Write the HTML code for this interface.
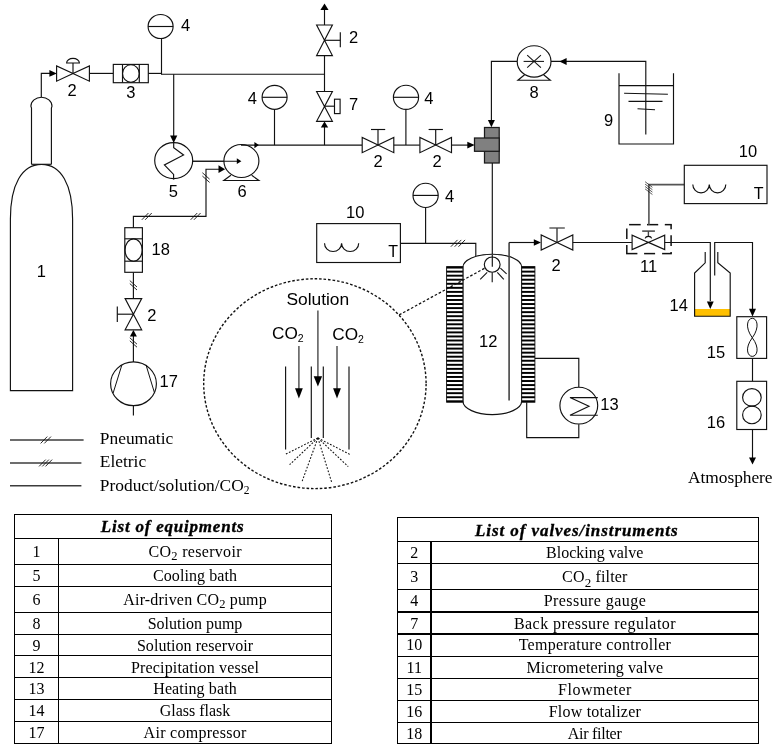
<!DOCTYPE html>
<html><head><meta charset="utf-8"><title>Experimental apparatus</title>
<style>
html,body{margin:0;padding:0;background:#fff;}
body{width:777px;height:755px;overflow:hidden;font-family:"Liberation Sans",sans-serif;}
svg{display:block;will-change:transform;}
</style></head><body>
<svg width="777" height="755" viewBox="0 0 777 755" fill="none" stroke="#111" stroke-width="1.15" stroke-linecap="butt" stroke-linejoin="miter">
<rect x="0" y="0" width="777" height="755" fill="#fff" stroke="none"/>
<path d="M10.4,390.6 L10.4,219 C10.4,184.5 22,164.3 41.5,164.3 C61,164.3 72.6,184.5 72.6,219 L72.6,390.6 Z" fill="#fff"/>
<path d="M31.5,164.3 L31.5,108 L30.9,106.2 A10.55,9 0 0 1 52,106.2 L51.4,108 L51.4,164.3" fill="#fff"/>
<line x1="31.4" y1="164.3" x2="51.5" y2="164.3" />
<text x="41.3" y="276.5" font-family="Liberation Sans" font-size="16.5" text-anchor="middle" fill="#000" stroke="none" >1</text>
<polyline points="41.3,97.3 41.3,73.4 50,73.4" fill="none"/>
<polygon points="56.8,73.4 49.4,70.10000000000001 49.4,76.7" fill="#000" stroke="none"/>
<polygon points="56.6,66.0 56.6,81.19999999999999 73,73.6" fill="#fff"/>
<polygon points="89.4,66.0 89.4,81.19999999999999 73,73.6" fill="#fff"/>
<line x1="73" y1="73.6" x2="73" y2="63" />
<path d="M66.6,63 A6.3,4.6 0 0 1 79.4,63 Z" fill="#fff"/>
<text x="72.2" y="95.7" font-family="Liberation Sans" font-size="16.5" text-anchor="middle" fill="#000" stroke="none" >2</text>
<line x1="89.4" y1="73.4" x2="113.3" y2="73.4" />
<rect x="113.3" y="64.4" width="35" height="18.3" fill="#fff"/>
<line x1="122.5" y1="64.4" x2="122.5" y2="82.7" />
<line x1="139.3" y1="64.4" x2="139.3" y2="82.7" />
<ellipse cx="130.9" cy="73.5" rx="8.4" ry="8.8" fill="none"/>
<text x="130.9" y="98" font-family="Liberation Sans" font-size="16.5" text-anchor="middle" fill="#000" stroke="none" >3</text>
<line x1="148.3" y1="73.4" x2="161.5" y2="73.4" />
<line x1="161.5" y1="38.4" x2="161.5" y2="74.2" />
<ellipse cx="160.6" cy="26.5" rx="12.5" ry="12.0" fill="#fff"/>
<line x1="148.1" y1="26.5" x2="173.1" y2="26.5" />
<text x="185.6" y="31.4" font-family="Liberation Sans" font-size="16.5" text-anchor="middle" fill="#000" stroke="none" >4</text>
<line x1="161" y1="74.2" x2="324.5" y2="74.2" />
<line x1="173.7" y1="74.2" x2="173.7" y2="136" />
<polygon points="173.7,142.9 170.1,135.4 177.29999999999998,135.4" fill="#000" stroke="none"/>
<ellipse cx="173.7" cy="160.6" rx="19" ry="18" fill="#fff"/>
<polyline points="173.7,142.3 173.7,147.6 183.6,155 164.4,165 173.6,174.4 173.6,179.6" fill="none"/>
<text x="173.3" y="196.5" font-family="Liberation Sans" font-size="16.5" text-anchor="middle" fill="#000" stroke="none" >5</text>
<line x1="192.4" y1="161.2" x2="238" y2="161.2" />
<ellipse cx="241.4" cy="161" rx="17.5" ry="16.5" fill="#fff"/>
<line x1="192.4" y1="161.2" x2="237.5" y2="161.2" />
<polygon points="241.4,161.2 236.8,158.29999999999998 236.8,164.1" fill="#000" stroke="none"/>
<polyline points="230.9,175.3 223.8,180.5 258.9,180.5 251.7,175.3" fill="none"/>
<text x="242.2" y="196.5" font-family="Liberation Sans" font-size="16.5" text-anchor="middle" fill="#000" stroke="none" >6</text>
<line x1="241" y1="145.1" x2="362" y2="145.1" />
<polygon points="258.8,145.1 254.4,142.0 254.4,148.2" fill="#000" stroke="none"/>
<line x1="274.5" y1="110" x2="274.5" y2="145.1" />
<ellipse cx="274.6" cy="97.3" rx="12.5" ry="12.0" fill="#fff"/>
<line x1="262.1" y1="97.3" x2="287.1" y2="97.3" />
<text x="252.3" y="103.5" font-family="Liberation Sans" font-size="16.5" text-anchor="middle" fill="#000" stroke="none" >4</text>
<line x1="324.5" y1="9" x2="324.5" y2="25" />
<line x1="324.5" y1="55.6" x2="324.5" y2="91" />
<polygon points="324.5,3.5 320.4,9.9 328.6,9.9" fill="#000" stroke="none"/>
<polygon points="316.6,24.999999999999996 332.4,24.999999999999996 324.5,40.3" fill="#fff"/>
<polygon points="316.6,55.599999999999994 332.4,55.599999999999994 324.5,40.3" fill="#fff"/>
<line x1="324.5" y1="40.3" x2="340.3" y2="40.3" />
<line x1="340.3" y1="32.2" x2="340.3" y2="47.2" />
<text x="353.7" y="42.6" font-family="Liberation Sans" font-size="16.5" text-anchor="middle" fill="#000" stroke="none" >2</text>
<polygon points="316.6,91.5 332.4,91.5 324.5,106.4" fill="#fff"/>
<polygon points="316.6,121.30000000000001 332.4,121.30000000000001 324.5,106.4" fill="#fff"/>
<line x1="324.5" y1="106.2" x2="334.5" y2="106.2" />
<rect x="334.5" y="99.2" width="5.6" height="14.4" fill="#fff"/>
<text x="353.6" y="109.7" font-family="Liberation Sans" font-size="16.5" text-anchor="middle" fill="#000" stroke="none" >7</text>
<line x1="324.5" y1="127" x2="324.5" y2="145.1" />
<polygon points="324.5,121.6 320.8,127.6 328.2,127.6" fill="#000" stroke="none"/>
<polygon points="362.2,137.5 362.2,152.7 378,145.1" fill="#fff"/>
<polygon points="393.8,137.5 393.8,152.7 378,145.1" fill="#fff"/>
<line x1="378" y1="145.1" x2="378" y2="129.5" />
<line x1="371" y1="129.5" x2="385.2" y2="129.5" />
<text x="378" y="166.5" font-family="Liberation Sans" font-size="16.5" text-anchor="middle" fill="#000" stroke="none" >2</text>
<line x1="393.8" y1="145.1" x2="419.9" y2="145.1" />
<line x1="405.9" y1="110" x2="405.9" y2="145.1" />
<ellipse cx="406" cy="97.3" rx="12.6" ry="12.1" fill="#fff"/>
<line x1="393.4" y1="97.3" x2="418.6" y2="97.3" />
<text x="428.8" y="103.5" font-family="Liberation Sans" font-size="16.5" text-anchor="middle" fill="#000" stroke="none" >4</text>
<polygon points="419.9,137.5 419.9,152.7 435.7,145.1" fill="#fff"/>
<polygon points="451.5,137.5 451.5,152.7 435.7,145.1" fill="#fff"/>
<line x1="435.7" y1="145.1" x2="435.7" y2="129.5" />
<line x1="428.6" y1="129.5" x2="442.9" y2="129.5" />
<text x="437" y="166.5" font-family="Liberation Sans" font-size="16.5" text-anchor="middle" fill="#000" stroke="none" >2</text>
<line x1="451.5" y1="145.1" x2="468" y2="145.1" />
<polygon points="474.7,145.1 467.3,141.7 467.3,148.5" fill="#000" stroke="none"/>
<rect x="484.5" y="127.5" width="14.7" height="35.5" fill="#808080" stroke="#1a1a1a" stroke-width="1.25"/>
<rect x="474.5" y="138" width="24.7" height="13.3" fill="#808080" stroke="#1a1a1a" stroke-width="1.25"/>
<polyline points="517,61.4 491.4,61.4 491.4,121" fill="none"/>
<polygon points="491.4,127.3 487.9,119.89999999999999 494.9,119.89999999999999" fill="#000" stroke="none"/>
<ellipse cx="534.1" cy="61.4" rx="16.9" ry="15.7" fill="#fff"/>
<polyline points="524.6,74.8 517.9,80.2 550.3,80.2 543.6,74.8" fill="none"/>
<line x1="523.6" y1="61.4" x2="544" y2="61.4" stroke-width="1.05"/>
<line x1="527.2" y1="55.2" x2="540.9" y2="67.7" stroke-width="1.05"/>
<line x1="540.9" y1="55.2" x2="527.2" y2="67.7" stroke-width="1.05"/>
<text x="534.2" y="98.2" font-family="Liberation Sans" font-size="16.5" text-anchor="middle" fill="#000" stroke="none" >8</text>
<polyline points="551,61.4 645.8,61.4 645.8,134.5" fill="none"/>
<polygon points="559.4,61.4 566.6,57.9 566.6,64.9" fill="#000" stroke="none"/>
<polyline points="619,73.3 619,144 673.5,144 673.5,73.3" fill="none"/>
<line x1="619" y1="85.6" x2="673.5" y2="85.6" />
<line x1="624.1" y1="93.3" x2="667.9" y2="94.3" />
<line x1="628.5" y1="101.3" x2="662.5" y2="101.3" />
<line x1="637.5" y1="108.8" x2="655" y2="109.8" />
<text x="608.7" y="126.3" font-family="Liberation Sans" font-size="16.5" text-anchor="middle" fill="#000" stroke="none" >9</text>
<line x1="492.3" y1="163" x2="492.3" y2="267" />
<rect x="316.7" y="223.6" width="83.7" height="38.9" fill="#fff"/>
<path d="M324.5,243.2 A8.55,8.3 0 0 0 341.6,243.2 A8.55,8.3 0 0 0 358.7,243.2" fill="none"/>
<text x="393.2" y="257" font-family="Liberation Sans" font-size="16" text-anchor="middle" fill="#000" stroke="none" >T</text>
<text x="355.3" y="217.6" font-family="Liberation Sans" font-size="16.5" text-anchor="middle" fill="#000" stroke="none" >10</text>
<polyline points="400.4,243.3 475.8,243.3 475.8,257" fill="none"/>
<line x1="425.6" y1="208" x2="425.6" y2="243.3" />
<ellipse cx="425.6" cy="195.4" rx="12.6" ry="12.1" fill="#fff"/>
<line x1="413.0" y1="195.4" x2="438.20000000000005" y2="195.4" />
<text x="449.5" y="201.7" font-family="Liberation Sans" font-size="16.5" text-anchor="middle" fill="#000" stroke="none" >4</text>
<line x1="450.9" y1="246.70000000000002" x2="457.5" y2="239.9" stroke-width="0.9"/>
<line x1="454.7" y1="246.70000000000002" x2="461.3" y2="239.9" stroke-width="0.9"/>
<line x1="458.5" y1="246.70000000000002" x2="465.1" y2="239.9" stroke-width="0.9"/>
<path d="M462.9,401 L462.9,267.2 A29.4,13 0 0 1 521.7,267.2 L521.7,401 A29.4,13.6 0 0 1 462.9,401 Z" fill="#fff"/>
<rect x="446.6" y="266.6" width="16.3" height="135.6" fill="#fff" stroke-width="0.9"/>
<rect x="446.6" y="266.6" width="16.3" height="1.95" fill="#000" stroke="none"/>
<rect x="446.6" y="270.65" width="16.3" height="1.95" fill="#000" stroke="none"/>
<rect x="446.6" y="274.7" width="16.3" height="1.95" fill="#000" stroke="none"/>
<rect x="446.6" y="278.75" width="16.3" height="1.95" fill="#000" stroke="none"/>
<rect x="446.6" y="282.81" width="16.3" height="1.95" fill="#000" stroke="none"/>
<rect x="446.6" y="286.86" width="16.3" height="1.95" fill="#000" stroke="none"/>
<rect x="446.6" y="290.91" width="16.3" height="1.95" fill="#000" stroke="none"/>
<rect x="446.6" y="294.96" width="16.3" height="1.95" fill="#000" stroke="none"/>
<rect x="446.6" y="299.01" width="16.3" height="1.95" fill="#000" stroke="none"/>
<rect x="446.6" y="303.06" width="16.3" height="1.95" fill="#000" stroke="none"/>
<rect x="446.6" y="307.12" width="16.3" height="1.95" fill="#000" stroke="none"/>
<rect x="446.6" y="311.17" width="16.3" height="1.95" fill="#000" stroke="none"/>
<rect x="446.6" y="315.22" width="16.3" height="1.95" fill="#000" stroke="none"/>
<rect x="446.6" y="319.27" width="16.3" height="1.95" fill="#000" stroke="none"/>
<rect x="446.6" y="323.32" width="16.3" height="1.95" fill="#000" stroke="none"/>
<rect x="446.6" y="327.37" width="16.3" height="1.95" fill="#000" stroke="none"/>
<rect x="446.6" y="331.42" width="16.3" height="1.95" fill="#000" stroke="none"/>
<rect x="446.6" y="335.48" width="16.3" height="1.95" fill="#000" stroke="none"/>
<rect x="446.6" y="339.53" width="16.3" height="1.95" fill="#000" stroke="none"/>
<rect x="446.6" y="343.58" width="16.3" height="1.95" fill="#000" stroke="none"/>
<rect x="446.6" y="347.63" width="16.3" height="1.95" fill="#000" stroke="none"/>
<rect x="446.6" y="351.68" width="16.3" height="1.95" fill="#000" stroke="none"/>
<rect x="446.6" y="355.73" width="16.3" height="1.95" fill="#000" stroke="none"/>
<rect x="446.6" y="359.78" width="16.3" height="1.95" fill="#000" stroke="none"/>
<rect x="446.6" y="363.84" width="16.3" height="1.95" fill="#000" stroke="none"/>
<rect x="446.6" y="367.89" width="16.3" height="1.95" fill="#000" stroke="none"/>
<rect x="446.6" y="371.94" width="16.3" height="1.95" fill="#000" stroke="none"/>
<rect x="446.6" y="375.99" width="16.3" height="1.95" fill="#000" stroke="none"/>
<rect x="446.6" y="380.04" width="16.3" height="1.95" fill="#000" stroke="none"/>
<rect x="446.6" y="384.09" width="16.3" height="1.95" fill="#000" stroke="none"/>
<rect x="446.6" y="388.15" width="16.3" height="1.95" fill="#000" stroke="none"/>
<rect x="446.6" y="392.2" width="16.3" height="1.95" fill="#000" stroke="none"/>
<rect x="446.6" y="396.25" width="16.3" height="1.95" fill="#000" stroke="none"/>
<rect x="446.6" y="400.3" width="16.3" height="1.95" fill="#000" stroke="none"/>
<rect x="521.7" y="266.6" width="13.2" height="135.6" fill="#fff" stroke-width="0.9"/>
<rect x="521.7" y="266.6" width="13.2" height="1.95" fill="#000" stroke="none"/>
<rect x="521.7" y="270.65" width="13.2" height="1.95" fill="#000" stroke="none"/>
<rect x="521.7" y="274.7" width="13.2" height="1.95" fill="#000" stroke="none"/>
<rect x="521.7" y="278.75" width="13.2" height="1.95" fill="#000" stroke="none"/>
<rect x="521.7" y="282.81" width="13.2" height="1.95" fill="#000" stroke="none"/>
<rect x="521.7" y="286.86" width="13.2" height="1.95" fill="#000" stroke="none"/>
<rect x="521.7" y="290.91" width="13.2" height="1.95" fill="#000" stroke="none"/>
<rect x="521.7" y="294.96" width="13.2" height="1.95" fill="#000" stroke="none"/>
<rect x="521.7" y="299.01" width="13.2" height="1.95" fill="#000" stroke="none"/>
<rect x="521.7" y="303.06" width="13.2" height="1.95" fill="#000" stroke="none"/>
<rect x="521.7" y="307.12" width="13.2" height="1.95" fill="#000" stroke="none"/>
<rect x="521.7" y="311.17" width="13.2" height="1.95" fill="#000" stroke="none"/>
<rect x="521.7" y="315.22" width="13.2" height="1.95" fill="#000" stroke="none"/>
<rect x="521.7" y="319.27" width="13.2" height="1.95" fill="#000" stroke="none"/>
<rect x="521.7" y="323.32" width="13.2" height="1.95" fill="#000" stroke="none"/>
<rect x="521.7" y="327.37" width="13.2" height="1.95" fill="#000" stroke="none"/>
<rect x="521.7" y="331.42" width="13.2" height="1.95" fill="#000" stroke="none"/>
<rect x="521.7" y="335.48" width="13.2" height="1.95" fill="#000" stroke="none"/>
<rect x="521.7" y="339.53" width="13.2" height="1.95" fill="#000" stroke="none"/>
<rect x="521.7" y="343.58" width="13.2" height="1.95" fill="#000" stroke="none"/>
<rect x="521.7" y="347.63" width="13.2" height="1.95" fill="#000" stroke="none"/>
<rect x="521.7" y="351.68" width="13.2" height="1.95" fill="#000" stroke="none"/>
<rect x="521.7" y="355.73" width="13.2" height="1.95" fill="#000" stroke="none"/>
<rect x="521.7" y="359.78" width="13.2" height="1.95" fill="#000" stroke="none"/>
<rect x="521.7" y="363.84" width="13.2" height="1.95" fill="#000" stroke="none"/>
<rect x="521.7" y="367.89" width="13.2" height="1.95" fill="#000" stroke="none"/>
<rect x="521.7" y="371.94" width="13.2" height="1.95" fill="#000" stroke="none"/>
<rect x="521.7" y="375.99" width="13.2" height="1.95" fill="#000" stroke="none"/>
<rect x="521.7" y="380.04" width="13.2" height="1.95" fill="#000" stroke="none"/>
<rect x="521.7" y="384.09" width="13.2" height="1.95" fill="#000" stroke="none"/>
<rect x="521.7" y="388.15" width="13.2" height="1.95" fill="#000" stroke="none"/>
<rect x="521.7" y="392.2" width="13.2" height="1.95" fill="#000" stroke="none"/>
<rect x="521.7" y="396.25" width="13.2" height="1.95" fill="#000" stroke="none"/>
<rect x="521.7" y="400.3" width="13.2" height="1.95" fill="#000" stroke="none"/>
<ellipse cx="492.2" cy="264.6" rx="7.9" ry="7.6" fill="#fff"/>
<line x1="492.3" y1="255" x2="492.3" y2="266.7" />
<line x1="487.2" y1="272.3" x2="480.2" y2="279.3" stroke-width="1.1"/>
<line x1="492.2" y1="272.4" x2="492.2" y2="282.2" stroke-width="1.1"/>
<line x1="497.3" y1="272.3" x2="503.8" y2="279.3" stroke-width="1.1"/>
<line x1="500.4" y1="268.2" x2="506.6" y2="273.8" stroke-width="1.1"/>
<line x1="509.1" y1="242.5" x2="509.1" y2="400.4" stroke="#444" stroke-width="1.6"/>
<line x1="509.1" y1="242.5" x2="535" y2="242.5" />
<polygon points="541,242.5 533.8,239.2 533.8,245.8" fill="#000" stroke="none"/>
<polygon points="541.2,234.9 541.2,250.1 557,242.5" fill="#fff"/>
<polygon points="572.8,234.9 572.8,250.1 557,242.5" fill="#fff"/>
<line x1="557" y1="242.5" x2="557" y2="228" />
<line x1="549.4" y1="228" x2="564.8" y2="228" stroke="#444" stroke-width="1.3"/>
<text x="556.2" y="271" font-family="Liberation Sans" font-size="16.5" text-anchor="middle" fill="#000" stroke="none" >2</text>
<text x="488.2" y="347.2" font-family="Liberation Sans" font-size="16.5" text-anchor="middle" fill="#000" stroke="none" >12</text>
<line x1="572.8" y1="242.5" x2="631.9" y2="242.5" />
<line x1="484.4" y1="268.4" x2="399" y2="315" stroke-dasharray="2.6 1.9" stroke-width="1.25"/>
<ellipse cx="314.9" cy="383.7" rx="111.2" ry="104.9" fill="none" stroke-dasharray="2.6 1.9" stroke-width="1.4"/>
<text x="317.8" y="305.4" font-family="Liberation Sans" font-size="17.4" text-anchor="middle" fill="#000" stroke="none" textLength="62.8" lengthAdjust="spacing">Solution</text>
<text x="272" y="338.8" font-family="Liberation Sans" font-size="17.2" fill="#000" stroke="none">CO<tspan font-size="10.5" dy="2.8">2</tspan></text>
<text x="332.3" y="340.2" font-family="Liberation Sans" font-size="17.2" fill="#000" stroke="none">CO<tspan font-size="10.5" dy="2.8">2</tspan></text>
<line x1="317.9" y1="310.4" x2="317.9" y2="378" stroke="#555" stroke-width="1.5"/>
<polygon points="317.9,386.6 313.7,376.3 322.09999999999997,376.3" fill="#000" stroke="none"/>
<line x1="298.9" y1="346" x2="298.9" y2="390" stroke="#555" stroke-width="1.5"/>
<polygon points="298.9,398.5 295.0,388.2 302.79999999999995,388.2" fill="#000" stroke="none"/>
<line x1="337" y1="346" x2="337" y2="390" stroke="#555" stroke-width="1.5"/>
<polygon points="337,398.5 333.1,388.2 340.9,388.2" fill="#000" stroke="none"/>
<line x1="285.6" y1="366.6" x2="285.6" y2="449.4" />
<line x1="311.3" y1="366.6" x2="311.3" y2="437.9" />
<line x1="323.3" y1="366.6" x2="323.3" y2="437.9" />
<line x1="349" y1="366.6" x2="349" y2="449.4" />
<line x1="317.9" y1="438" x2="285.7" y2="454.1" stroke-dasharray="1.8 1.6" stroke-width="1.05"/>
<line x1="317.9" y1="438" x2="289.6" y2="464.7" stroke-dasharray="1.8 1.6" stroke-width="1.05"/>
<line x1="317.9" y1="438" x2="302.2" y2="481.1" stroke-dasharray="1.8 1.6" stroke-width="1.05"/>
<line x1="317.9" y1="438" x2="331.8" y2="482.8" stroke-dasharray="1.8 1.6" stroke-width="1.05"/>
<line x1="317.9" y1="438" x2="348.2" y2="466.6" stroke-dasharray="1.8 1.6" stroke-width="1.05"/>
<line x1="317.9" y1="438" x2="350.4" y2="454.7" stroke-dasharray="1.8 1.6" stroke-width="1.05"/>
<polyline points="534.9,358.3 578.8,358.3 578.8,387.2" fill="none"/>
<ellipse cx="578.8" cy="405.6" rx="18.9" ry="18.4" fill="#fff"/>
<polyline points="597.8,397.6 570,397.6 589,406.3 570,415.2 597.8,415.2" fill="none"/>
<polyline points="578.8,424.2 578.8,437.6 526.7,437.6 526.7,402.2" fill="none"/>
<text x="609.5" y="409.9" font-family="Liberation Sans" font-size="16.5" text-anchor="middle" fill="#000" stroke="none" >13</text>
<line x1="629.1" y1="224.65" x2="640.7" y2="224.65" stroke="#111" stroke-width="1.5"/>
<line x1="647" y1="224.65" x2="658.2" y2="224.65" stroke="#111" stroke-width="1.5"/>
<line x1="664.8" y1="224.65" x2="671.85" y2="224.65" stroke="#111" stroke-width="1.5"/>
<line x1="626.05" y1="253.6" x2="637.4" y2="253.6" stroke="#111" stroke-width="1.5"/>
<line x1="644.1" y1="253.6" x2="655.1" y2="253.6" stroke="#111" stroke-width="1.5"/>
<line x1="662.1" y1="253.6" x2="671.85" y2="253.6" stroke="#111" stroke-width="1.5"/>
<line x1="626.8" y1="228.5" x2="626.8" y2="238.9" stroke="#111" stroke-width="1.5"/>
<line x1="626.8" y1="245.1" x2="626.8" y2="253.6" stroke="#111" stroke-width="1.5"/>
<line x1="671.1" y1="224.65" x2="671.1" y2="229.3" stroke="#111" stroke-width="1.5"/>
<line x1="671.1" y1="235.2" x2="671.1" y2="245.9" stroke="#111" stroke-width="1.5"/>
<line x1="671.1" y1="252" x2="671.1" y2="253.6" stroke="#111" stroke-width="1.5"/>
<polygon points="632.1,235.15 632.1,249.65 648.4,242.4" fill="#fff"/>
<polygon points="664.6999999999999,235.15 664.6999999999999,249.65 648.4,242.4" fill="#fff"/>
<line x1="648.4" y1="231.1" x2="648.4" y2="236" stroke="#444" stroke-width="1.4"/>
<line x1="642.2" y1="231.1" x2="654.9" y2="231.1" stroke="#444" stroke-width="1.5"/>
<path d="M645.1,238.4 A3.4,2.7 0 0 1 651.7,238.4" fill="none" stroke-width="1.1"/>
<text x="648.6" y="272" font-family="Liberation Sans" font-size="16.5" text-anchor="middle" fill="#000" stroke="none" >11</text>
<polyline points="684.3,184.6 648.9,184.6 648.9,224.65" fill="none" stroke="#555" stroke-width="1.6"/>
<line x1="645.1" y1="181.7" x2="652.4" y2="187.29999999999998" stroke-width="0.7"/>
<line x1="645.1" y1="184.1" x2="652.4" y2="189.7" stroke-width="0.7"/>
<line x1="645.1" y1="186.5" x2="652.4" y2="192.1" stroke-width="0.7"/>
<line x1="645.1" y1="188.89999999999998" x2="652.4" y2="194.49999999999997" stroke-width="0.7"/>
<rect x="684.3" y="165.3" width="82.7" height="38.3" fill="#fff"/>
<path d="M692.8,184.6 A8.25,8.3 0 0 0 709.3,184.6 A8.25,8.3 0 0 0 725.8,184.6" fill="none"/>
<text x="758.7" y="198.7" font-family="Liberation Sans" font-size="16" text-anchor="middle" fill="#000" stroke="none" >T</text>
<text x="748" y="156.6" font-family="Liberation Sans" font-size="16.5" text-anchor="middle" fill="#000" stroke="none" >10</text>
<rect x="694.6" y="309" width="35.6" height="7.2" fill="#FFC000" stroke="none"/>
<polyline points="705.2,252 705.2,262.8 694.6,273 694.6,316.2 730.2,316.2 730.2,273 717.8,262.8 717.8,252" fill="none"/>
<polyline points="664.7,242.5 710.3,242.5 710.3,301" fill="none"/>
<polygon points="710.3,309 706.9,301.4 713.6999999999999,301.4" fill="#000" stroke="none"/>
<polyline points="714.7,275.6 714.7,242.5 752.5,242.5 752.5,309" fill="none"/>
<polygon points="752.5,316.4 749.0,308.79999999999995 756.0,308.79999999999995" fill="#000" stroke="none"/>
<text x="678.7" y="310.5" font-family="Liberation Sans" font-size="16.5" text-anchor="middle" fill="#000" stroke="none" >14</text>
<rect x="736.8" y="316.7" width="29.8" height="41.7" fill="#fff"/>
<path d="M752.3,337.8 C744.5,327 747.5,318.3 752.3,318.3 C757.1,318.3 760.1,327 752.3,337.8 C744.5,348 747.5,356.4 752.3,356.4 C757.1,356.4 760.1,348 752.3,337.8 Z" fill="none" stroke-width="1"/>
<text x="716" y="358" font-family="Liberation Sans" font-size="16.5" text-anchor="middle" fill="#000" stroke="none" >15</text>
<line x1="752.5" y1="358.4" x2="752.5" y2="381.3" />
<rect x="736.8" y="381.3" width="29.8" height="48.2" fill="#fff"/>
<ellipse cx="751.9" cy="397.4" rx="9.3" ry="8.7" fill="none"/>
<ellipse cx="751.9" cy="414.9" rx="9.3" ry="8.8" fill="none"/>
<text x="716" y="428" font-family="Liberation Sans" font-size="16.5" text-anchor="middle" fill="#000" stroke="none" >16</text>
<line x1="752.5" y1="429.5" x2="752.5" y2="458" />
<polygon points="752.5,464.4 749.0,457.4 756.0,457.4" fill="#000" stroke="none"/>
<text x="730.3" y="483.2" font-family="Liberation Serif" font-size="17.4" text-anchor="middle" fill="#000" stroke="none" textLength="84.4" lengthAdjust="spacing">Atmosphere</text>
<ellipse cx="133.5" cy="383.8" rx="22.9" ry="21.9" fill="#fff"/>
<line x1="121.9" y1="364.9" x2="113.1" y2="393.2" stroke-width="1"/>
<line x1="146" y1="364.9" x2="154.6" y2="393.2" stroke-width="1"/>
<line x1="133.4" y1="405.7" x2="133.4" y2="415.4" />
<text x="168.8" y="386.9" font-family="Liberation Sans" font-size="16.5" text-anchor="middle" fill="#000" stroke="none" >17</text>
<line x1="133.4" y1="362" x2="133.4" y2="336" />
<polygon points="133.4,330 129.9,336.6 136.9,336.6" fill="#000" stroke="none"/>
<polygon points="125.10000000000001,298.59999999999997 141.70000000000002,298.59999999999997 133.4,314.2" fill="#fff"/>
<polygon points="125.10000000000001,329.8 141.70000000000002,329.8 133.4,314.2" fill="#fff"/>
<line x1="133.4" y1="314.2" x2="117.3" y2="314.2" />
<line x1="117.3" y1="306.6" x2="117.3" y2="322" />
<text x="151.8" y="320.8" font-family="Liberation Sans" font-size="16.5" text-anchor="middle" fill="#000" stroke="none" >2</text>
<line x1="133.4" y1="298.6" x2="133.4" y2="272.3" />
<rect x="124.8" y="227.7" width="17.6" height="44.6" fill="#fff"/>
<line x1="124.8" y1="238.8" x2="142.4" y2="238.8" />
<line x1="124.8" y1="261.2" x2="142.4" y2="261.2" />
<ellipse cx="133.6" cy="250" rx="8.6" ry="11.2" fill="none"/>
<text x="160.7" y="255" font-family="Liberation Sans" font-size="16.5" text-anchor="middle" fill="#000" stroke="none" >18</text>
<polyline points="133.4,227.7 133.4,216.4 206,216.4 206,169.2 219,169.2" fill="none"/>
<polygon points="225.1,169.2 218.5,165.29999999999998 218.5,173.1" fill="#000" stroke="none"/>
<line x1="141.85" y1="219.8" x2="148.45000000000002" y2="213.0" stroke-width="0.9"/>
<line x1="145.15" y1="219.8" x2="151.75000000000003" y2="213.0" stroke-width="0.9"/>
<line x1="190.64999999999998" y1="219.8" x2="197.25" y2="213.0" stroke-width="0.9"/>
<line x1="193.95" y1="219.8" x2="200.55" y2="213.0" stroke-width="0.9"/>
<line x1="202.4" y1="172.75" x2="209.6" y2="179.14999999999998" stroke-width="0.9"/>
<line x1="202.4" y1="176.05" x2="209.6" y2="182.45" stroke-width="0.9"/>
<line x1="129.8" y1="280.6" x2="137.0" y2="287.0" stroke-width="0.9"/>
<line x1="129.8" y1="283.6" x2="137.0" y2="290.0" stroke-width="0.9"/>
<line x1="129.8" y1="337.8" x2="137.0" y2="344.2" stroke-width="0.9"/>
<line x1="129.8" y1="340.8" x2="137.0" y2="347.2" stroke-width="0.9"/>
<line x1="10" y1="440" x2="83.6" y2="440" stroke="#3c3c3c" stroke-width="1.45"/>
<line x1="40.65" y1="443.4" x2="47.24999999999999" y2="436.6" stroke-width="0.9"/>
<line x1="44.35" y1="443.4" x2="50.949999999999996" y2="436.6" stroke-width="0.9"/>
<line x1="10" y1="463" x2="81.4" y2="463" stroke="#3c3c3c" stroke-width="1.45"/>
<line x1="39.1" y1="466.4" x2="45.699999999999996" y2="459.6" stroke-width="0.9"/>
<line x1="42.300000000000004" y1="466.4" x2="48.9" y2="459.6" stroke-width="0.9"/>
<line x1="45.5" y1="466.4" x2="52.099999999999994" y2="459.6" stroke-width="0.9"/>
<line x1="10" y1="485.8" x2="81.4" y2="485.8" stroke="#3c3c3c" stroke-width="1.45"/>
<text x="99.8" y="443.6" font-family="Liberation Serif" font-size="17.4" text-anchor="start" fill="#000" stroke="none" >Pneumatic</text>
<text x="99.8" y="467.2" font-family="Liberation Serif" font-size="17.4" text-anchor="start" fill="#000" stroke="none" >Eletric</text>
<text x="99.8" y="490.5" font-family="Liberation Serif" font-size="17.4" fill="#000" stroke="none">Product/solution/CO<tspan font-size="11.5" dy="3.2">2</tspan></text>
<rect x="14.5" y="514.5" width="317.0" height="229.0" fill="#fff" stroke="#000" stroke-width="1" shape-rendering="crispEdges"/>
<line x1="14.5" y1="538.5" x2="331.5" y2="538.5" stroke="#000" stroke-width="1" shape-rendering="crispEdges"/>
<line x1="14.5" y1="564.5" x2="331.5" y2="564.5" stroke="#000" stroke-width="1" shape-rendering="crispEdges"/>
<line x1="14.5" y1="586.5" x2="331.5" y2="586.5" stroke="#000" stroke-width="1" shape-rendering="crispEdges"/>
<line x1="14.5" y1="612.5" x2="331.5" y2="612.5" stroke="#000" stroke-width="1" shape-rendering="crispEdges"/>
<line x1="14.5" y1="634.5" x2="331.5" y2="634.5" stroke="#000" stroke-width="1" shape-rendering="crispEdges"/>
<line x1="14.5" y1="655.5" x2="331.5" y2="655.5" stroke="#000" stroke-width="1" shape-rendering="crispEdges"/>
<line x1="14.5" y1="677.5" x2="331.5" y2="677.5" stroke="#000" stroke-width="1" shape-rendering="crispEdges"/>
<line x1="14.5" y1="699.5" x2="331.5" y2="699.5" stroke="#000" stroke-width="1" shape-rendering="crispEdges"/>
<line x1="14.5" y1="721.5" x2="331.5" y2="721.5" stroke="#000" stroke-width="1" shape-rendering="crispEdges"/>
<line x1="58.5" y1="538.5" x2="58.5" y2="743.5" stroke="#000" stroke-width="1" shape-rendering="crispEdges"/>
<text x="172.2" y="532.3" font-family="Liberation Serif" font-size="17" font-weight="bold" font-style="italic" text-anchor="middle" textLength="142.7" lengthAdjust="spacing" fill="#000" stroke="#000" stroke-width="0.35">List of equipments</text>
<text x="36.5" y="556.6" font-family="Liberation Serif" font-size="16" text-anchor="middle" fill="#000" stroke="none" >1</text>
<text x="195.0" y="556.6" font-family="Liberation Serif" font-size="16" text-anchor="middle" fill="#000" stroke="none" textLength="93" lengthAdjust="spacing">CO<tspan font-size="12.5" dy="3.1">2</tspan><tspan dy="-3.1"> </tspan>reservoir</text>
<text x="36.5" y="580.8" font-family="Liberation Serif" font-size="16" text-anchor="middle" fill="#000" stroke="none" >5</text>
<text x="195.0" y="580.8" font-family="Liberation Serif" font-size="16" text-anchor="middle" fill="#000" stroke="none" textLength="84" lengthAdjust="spacing">Cooling bath</text>
<text x="36.5" y="604.5" font-family="Liberation Serif" font-size="16" text-anchor="middle" fill="#000" stroke="none" >6</text>
<text x="195.0" y="604.5" font-family="Liberation Serif" font-size="16" text-anchor="middle" fill="#000" stroke="none" textLength="143.5" lengthAdjust="spacing">Air-driven CO<tspan font-size="12.5" dy="3.1">2</tspan><tspan dy="-3.1"> </tspan>pump</text>
<text x="36.5" y="628.7" font-family="Liberation Serif" font-size="16" text-anchor="middle" fill="#000" stroke="none" >8</text>
<text x="195.0" y="628.7" font-family="Liberation Serif" font-size="16" text-anchor="middle" fill="#000" stroke="none" >Solution pump</text>
<text x="36.5" y="650.7" font-family="Liberation Serif" font-size="16" text-anchor="middle" fill="#000" stroke="none" >9</text>
<text x="195.0" y="650.7" font-family="Liberation Serif" font-size="16" text-anchor="middle" fill="#000" stroke="none" textLength="116.2" lengthAdjust="spacing">Solution reservoir</text>
<text x="36.5" y="672.5" font-family="Liberation Serif" font-size="16" text-anchor="middle" fill="#000" stroke="none" >12</text>
<text x="195.0" y="672.5" font-family="Liberation Serif" font-size="16" text-anchor="middle" fill="#000" stroke="none" textLength="128" lengthAdjust="spacing">Precipitation vessel</text>
<text x="36.5" y="693.7" font-family="Liberation Serif" font-size="16" text-anchor="middle" fill="#000" stroke="none" >13</text>
<text x="195.0" y="693.7" font-family="Liberation Serif" font-size="16" text-anchor="middle" fill="#000" stroke="none" textLength="83.6" lengthAdjust="spacing">Heating bath</text>
<text x="36.5" y="715.5" font-family="Liberation Serif" font-size="16" text-anchor="middle" fill="#000" stroke="none" >14</text>
<text x="195.0" y="715.5" font-family="Liberation Serif" font-size="16" text-anchor="middle" fill="#000" stroke="none" >Glass flask</text>
<text x="36.5" y="737.6" font-family="Liberation Serif" font-size="16" text-anchor="middle" fill="#000" stroke="none" >17</text>
<text x="195.0" y="737.6" font-family="Liberation Serif" font-size="16" text-anchor="middle" fill="#000" stroke="none" textLength="102.8" lengthAdjust="spacing">Air compressor</text>
<rect x="397.5" y="517.5" width="361.0" height="226.0" fill="#fff" stroke="#000" stroke-width="1" shape-rendering="crispEdges"/>
<line x1="397.5" y1="541.5" x2="758.5" y2="541.5" stroke="#000" stroke-width="1" shape-rendering="crispEdges"/>
<line x1="397.5" y1="563.5" x2="758.5" y2="563.5" stroke="#000" stroke-width="1" shape-rendering="crispEdges"/>
<line x1="397.5" y1="589.5" x2="758.5" y2="589.5" stroke="#000" stroke-width="1" shape-rendering="crispEdges"/>
<line x1="397.5" y1="611.5" x2="758.5" y2="611.5" stroke="#000" stroke-width="2" shape-rendering="crispEdges"/>
<line x1="397.5" y1="633.5" x2="758.5" y2="633.5" stroke="#000" stroke-width="2" shape-rendering="crispEdges"/>
<line x1="397.5" y1="656.5" x2="758.5" y2="656.5" stroke="#000" stroke-width="1" shape-rendering="crispEdges"/>
<line x1="397.5" y1="678.5" x2="758.5" y2="678.5" stroke="#000" stroke-width="1" shape-rendering="crispEdges"/>
<line x1="397.5" y1="700.5" x2="758.5" y2="700.5" stroke="#000" stroke-width="1" shape-rendering="crispEdges"/>
<line x1="397.5" y1="722.5" x2="758.5" y2="722.5" stroke="#000" stroke-width="1" shape-rendering="crispEdges"/>
<line x1="431" y1="541.5" x2="431" y2="743.5" stroke="#000" stroke-width="2" shape-rendering="crispEdges"/>
<text x="576.3" y="535.8" font-family="Liberation Serif" font-size="17" font-weight="bold" font-style="italic" text-anchor="middle" textLength="202.6" lengthAdjust="spacing" fill="#000" stroke="#000" stroke-width="0.35">List of valves/instruments</text>
<text x="414.25" y="557.7" font-family="Liberation Serif" font-size="16" text-anchor="middle" fill="#000" stroke="none" >2</text>
<text x="594.75" y="557.7" font-family="Liberation Serif" font-size="16" text-anchor="middle" fill="#000" stroke="none" >Blocking valve</text>
<text x="414.25" y="581.5" font-family="Liberation Serif" font-size="16" text-anchor="middle" fill="#000" stroke="none" >3</text>
<text x="594.75" y="581.5" font-family="Liberation Serif" font-size="16" text-anchor="middle" fill="#000" stroke="none" textLength="65.3" lengthAdjust="spacing">CO<tspan font-size="13" dy="5">2</tspan><tspan dy="-5"> </tspan>filter</text>
<text x="414.25" y="606.4" font-family="Liberation Serif" font-size="16" text-anchor="middle" fill="#000" stroke="none" >4</text>
<text x="594.75" y="606.4" font-family="Liberation Serif" font-size="16" text-anchor="middle" fill="#000" stroke="none" textLength="102" lengthAdjust="spacing">Pressure gauge</text>
<text x="414.25" y="628.7" font-family="Liberation Serif" font-size="16" text-anchor="middle" fill="#000" stroke="none" >7</text>
<text x="594.75" y="628.7" font-family="Liberation Serif" font-size="16" text-anchor="middle" fill="#000" stroke="none" textLength="161.6" lengthAdjust="spacing">Back pressure regulator</text>
<text x="414.25" y="650.4" font-family="Liberation Serif" font-size="16" text-anchor="middle" fill="#000" stroke="none" >10</text>
<text x="594.75" y="650.4" font-family="Liberation Serif" font-size="16" text-anchor="middle" fill="#000" stroke="none" textLength="152.2" lengthAdjust="spacing">Temperature controller</text>
<text x="414.25" y="672.8" font-family="Liberation Serif" font-size="16" text-anchor="middle" fill="#000" stroke="none" >11</text>
<text x="594.75" y="672.8" font-family="Liberation Serif" font-size="16" text-anchor="middle" fill="#000" stroke="none" textLength="136.5" lengthAdjust="spacing">Micrometering valve</text>
<text x="414.25" y="694.8" font-family="Liberation Serif" font-size="16" text-anchor="middle" fill="#000" stroke="none" >15</text>
<text x="594.75" y="694.8" font-family="Liberation Serif" font-size="16" text-anchor="middle" fill="#000" stroke="none" textLength="73.3" lengthAdjust="spacing">Flowmeter</text>
<text x="414.25" y="716.8" font-family="Liberation Serif" font-size="16" text-anchor="middle" fill="#000" stroke="none" >16</text>
<text x="594.75" y="716.8" font-family="Liberation Serif" font-size="16" text-anchor="middle" fill="#000" stroke="none" textLength="92.2" lengthAdjust="spacing">Flow totalizer</text>
<text x="414.25" y="738.8" font-family="Liberation Serif" font-size="16" text-anchor="middle" fill="#000" stroke="none" >18</text>
<text x="594.75" y="738.8" font-family="Liberation Serif" font-size="16" text-anchor="middle" fill="#000" stroke="none" textLength="54" lengthAdjust="spacing">Air filter</text>
</svg>
</body></html>
